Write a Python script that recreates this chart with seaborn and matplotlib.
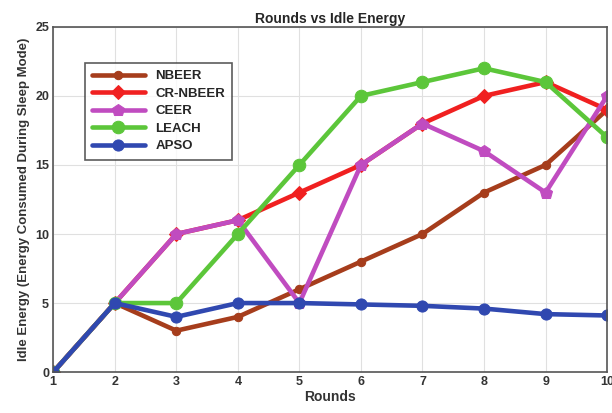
import pandas as pd
import seaborn as sns
import matplotlib.pyplot as plt

rounds = [1, 2, 3, 4, 5, 6, 7, 8, 9, 10]
nbeer = [0, 5, 3, 4, 6, 8, 10, 13, 15, 19]
cr_nbeer = [0, 5, 10, 11, 13, 15, 18, 20, 21, 19]
ceer = [0, 5, 10, 11, 5, 15, 18, 16, 13, 20]
leach = [0, 5, 5, 10, 15, 20, 21, 22, 21, 17]
apso = [0, 5, 4, 5, 5, 4.9, 4.8, 4.6, 4.2, 4.1]

series = {'NBEER': nbeer, 'CR-NBEER': cr_nbeer, 'CEER': ceer, 'LEACH': leach, 'APSO': apso}
colores = {'NBEER': '#a63d1c', 'CR-NBEER': '#f02020', 'CEER': '#c04cc0',
           'LEACH': '#5cc63a', 'APSO': '#3048b0'}
marcas = {'NBEER': 'o', 'CR-NBEER': 'D', 'CEER': 'p', 'LEACH': 'o', 'APSO': 'o'}
tam = {'NBEER': 6, 'CR-NBEER': 7, 'CEER': 9, 'LEACH': 9, 'APSO': 8}

sns.set_style('whitegrid')
plt.rcParams['font.family'] = ['Liberation Sans', 'DejaVu Sans']
plt.rcParams['font.weight'] = 'bold'

fig = plt.figure(figsize=(6.12, 4.13), dpi=100)
ax = fig.add_axes([0.087, 0.099, 0.905, 0.836])

for nombre, vals in series.items():
    df = pd.DataFrame({'Rounds': rounds, 'Energy': vals})
    sns.lineplot(data=df, x='Rounds', y='Energy', ax=ax, color=colores[nombre],
                 marker=marcas[nombre], markersize=tam[nombre], linewidth=3.3,
                 markeredgecolor=colores[nombre], label=nombre)

ax.set_xlim(1, 10)
ax.set_ylim(0, 25)
ax.set_xticks(rounds)
ax.set_yticks([0, 5, 10, 15, 20, 25])
ax.tick_params(labelsize=9, length=3, direction='in', pad=3)
for lab in ax.get_xticklabels() + ax.get_yticklabels():
    lab.set_fontweight('bold')
    lab.set_color('#333333')
ax.grid(True, color='#e0e0e0', linewidth=0.8)
for s in ax.spines.values():
    s.set_color('#555555')
    s.set_linewidth(1.2)

ax.set_title('Rounds vs Idle Energy', fontsize=10, fontweight='bold', pad=3)
ax.set_xlabel('Rounds', fontsize=10, fontweight='bold', labelpad=1, color='#333333')
ax.set_ylabel('Idle Energy (Energy Consumed During Sleep Mode)', fontsize=9.5,
              fontweight='bold', labelpad=4, color='#333333')

leg = ax.legend(loc='upper left', bbox_to_anchor=(0.045, 0.915), frameon=True, fancybox=False,
                fontsize=9.5, handlelength=4, borderpad=0.55, labelspacing=0.4)
leg.get_frame().set_edgecolor('#333333')
leg.get_frame().set_linewidth(1.2)
for t in leg.get_texts():
    t.set_fontweight('bold')

plt.savefig('out.png', dpi=100)
